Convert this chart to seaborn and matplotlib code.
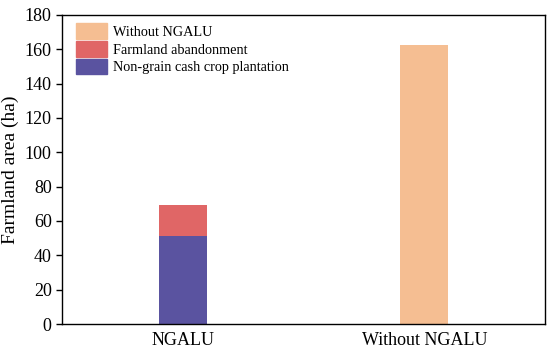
import numpy as np
import pandas as pd
import seaborn as sns
import matplotlib
matplotlib.use("Agg")
import matplotlib.pyplot as plt
from matplotlib.patches import Patch

# data
categories = ["NGALU", "Without NGALU"]
non_grain = [51.3, 0]
abandonment = [18.0, 0]
without_ngalu = [0, 162.5]

c_orange = "#F5BE92"
c_red = "#E06666"
c_blue = "#5A53A0"

sns.set_style("ticks")
plt.rcParams['font.family'] = ['Liberation Serif', 'DejaVu Serif']
plt.rcParams['text.color'] = 'black'
plt.rcParams['axes.labelcolor'] = 'black'
plt.rcParams['xtick.color'] = 'black'
plt.rcParams['ytick.color'] = 'black'

totals = [n + a + w for n, a, w in zip(non_grain, abandonment, without_ngalu)]
df_tot = pd.DataFrame({"cat": categories, "val": totals})
df_blue = pd.DataFrame({"cat": categories, "val": non_grain})

fig = plt.figure(figsize=(5.5, 3.53), dpi=100)
ax = fig.add_axes([0.113, 0.082, 0.878, 0.876])

sns.barplot(data=df_tot, x="cat", y="val", hue="cat", palette=[c_red, c_orange],
            order=categories, width=0.2, saturation=1, legend=False,
            linewidth=0, ax=ax)
sns.barplot(data=df_blue, x="cat", y="val", color=c_blue, order=categories,
            width=0.2, saturation=1, linewidth=0, ax=ax)

ax.set_xlim(-0.5, 1.5)
ax.set_ylim(0, 180)
ax.set_yticks(np.arange(0, 181, 20))
ax.set_xlabel("")
ax.set_ylabel("Farmland area (ha)", fontsize=14)
ax.tick_params(axis="y", labelsize=13, direction="out", length=4, width=1)
ax.tick_params(axis="x", labelsize=13, length=0, pad=6)
for s in ax.spines.values():
    s.set_visible(True)
    s.set_linewidth(1)
    s.set_color("black")

handles = [Patch(color=c_orange, label="Without NGALU"),
           Patch(color=c_red, label="Farmland abandonment"),
           Patch(color=c_blue, label="Non-grain cash crop plantation")]
ax.legend(handles=handles, loc="upper left", frameon=False, fontsize=10.3,
          handlelength=2.2, handleheight=1.3, labelspacing=0.15,
          handletextpad=0.4, borderaxespad=0.2, bbox_to_anchor=(0.01, 1.0))

fig.savefig("out.png", dpi=100)
